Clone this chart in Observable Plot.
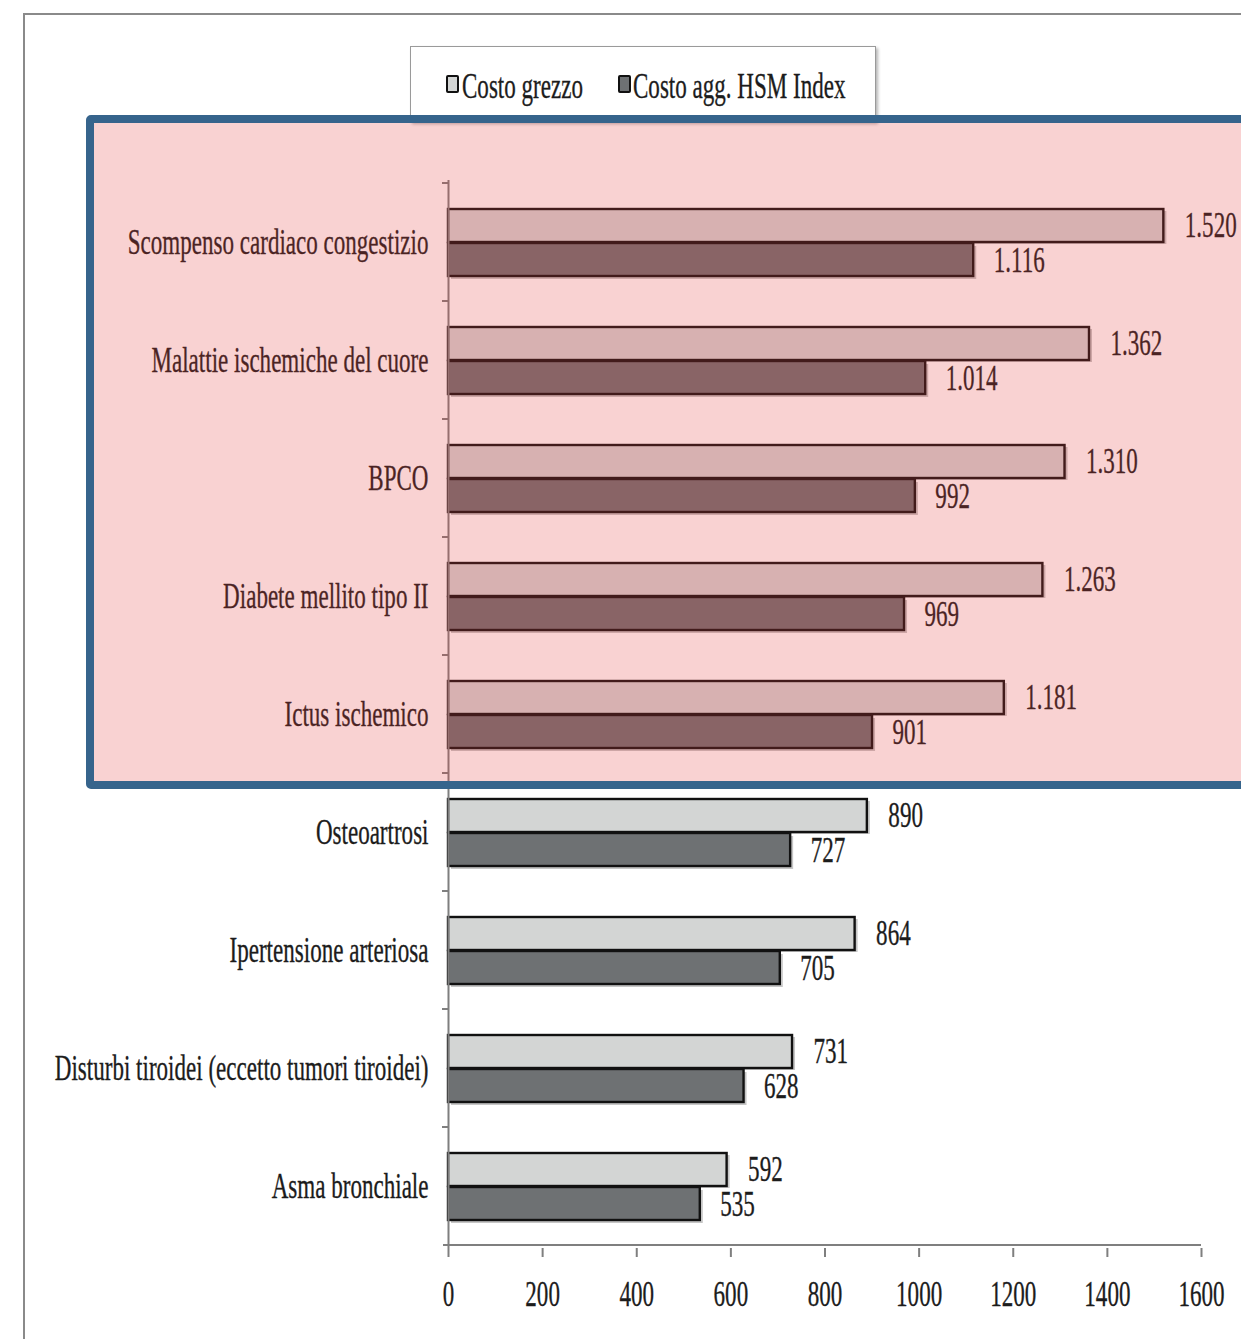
<!DOCTYPE html>
<html>
<head>
<meta charset="utf-8">
<script src="https://cdn.jsdelivr.net/npm/d3@7"></script>
<script src="https://cdn.jsdelivr.net/npm/@observablehq/plot@0.6"></script>
<style>
  html, body { margin: 0; padding: 0; background: #fff; }
  body { width: 1241px; height: 1339px; overflow: hidden; position: relative;
         font-family: "Liberation Serif", "Times New Roman", serif; color: #1c1c1c; }
  #frame { position: absolute; left: 23px; top: 13px; width: 1300px; height: 1400px;
           box-sizing: border-box; border: 2px solid #8a8a8a; }
  #legend { position: absolute; left: 410px; top: 46px; width: 466px; height: 76px;
            box-sizing: border-box; border: 1px solid #9a9a9a; background: #fff;
            box-shadow: 2px 2px 3px #b5b5b5; }
  .sw { position: absolute; top: 28px; width: 9px; height: 14px; border: 2.5px solid #111; border-radius: 2px; }
  .lt { position: absolute; top: 21px; font-size: 36px; line-height: 36px; white-space: nowrap;
        transform: scaleX(0.64); transform-origin: left center; -webkit-text-stroke: 0.35px #1c1c1c; }
  #chart { position: absolute; left: 0; top: 130px; }
  #chart text { stroke: #1c1c1c; stroke-width: 0.35px; }
  #highlight { position: absolute; box-sizing: border-box; border: 8px solid #36648c; border-radius: 5px;
               background: rgba(228, 60, 62, 0.23); pointer-events: none; }
</style>
</head>
<body>
<div id="frame"></div>
<div id="legend">
  <div class="sw" style="left:35px;background:#d3d5d4"></div>
  <div class="lt" style="left:51px">Costo grezzo</div>
  <div class="sw" style="left:207px;background:#6e7173"></div>
  <div class="lt" style="left:222px">Costo agg. HSM Index</div>
</div>
<div id="chart"></div>
<div id="highlight"></div>
<script>
const categories = [
  "Scompenso cardiaco congestizio",
  "Malattie ischemiche del cuore",
  "BPCO",
  "Diabete mellito tipo II",
  "Ictus ischemico",
  "Osteoartrosi",
  "Ipertensione arteriosa",
  "Disturbi tiroidei (eccetto tumori tiroidei)",
  "Asma bronchiale"
];
const costoGrezzo = [1520, 1362, 1310, 1263, 1181, 890, 864, 731, 592];
const costoHSM    = [1116, 1014, 992, 969, 901, 727, 705, 628, 535];
const seriesNames = ["Costo grezzo", "Costo agg. HSM Index"];
const xTicks = [0, 200, 400, 600, 800, 1000, 1200, 1400, 1600];
const highlighted = categories.slice(0, 5);

const fmtIt = d3.formatLocale({decimal: ",", thousands: ".", grouping: [3], currency: ["", "€"]}).format(",d");
const rows = categories.map((c, i) => ({cat: c, grezzo: costoGrezzo[i], hsm: costoHSM[i]}));

const FS = 36;
const SQUEEZE = 0.64;
const LIGHT = "#d3d5d4", DARK = "#6e7173", EDGE = "#111", AXIS = "#7f7f7f";

const plot = Plot.plot({
  width: 1241,
  height: 1209,
  marginLeft: 448,
  marginRight: 40,
  marginTop: 50,
  marginBottom: 91,
  style: {fontFamily: '"Liberation Serif", "Times New Roman", serif', fontSize: FS + "px",
          color: "#1c1c1c", background: "transparent", overflow: "visible"},
  x: {domain: [0, 1600], label: null},
  y: {domain: categories, padding: 0, label: null},
  marks: [
    // soft drop shadows
    Plot.barX(rows, {x: "grezzo", y: "cat", fill: "#a0a0a0", fillOpacity: 0.6, insetTop: 26, insetBottom: 59, dx: 3, dy: 2}),
    Plot.barX(rows, {x: "hsm", y: "cat", fill: "#a0a0a0", fillOpacity: 0.6, insetTop: 60, insetBottom: 25, dx: 3, dy: 3}),
    // bars
    Plot.barX(rows, {x: "grezzo", y: "cat", fill: LIGHT, stroke: EDGE, strokeWidth: 2.4, insetTop: 26, insetBottom: 59}),
    Plot.barX(rows, {x: "hsm", y: "cat", fill: DARK, stroke: EDGE, strokeWidth: 2.4, insetTop: 60, insetBottom: 25}),
    // value labels
    Plot.text(rows, {x: "grezzo", y: "cat", text: d => fmtIt(d.grezzo), textAnchor: "start", dx: 21, dy: -17, fontSize: FS, fill: "#1c1c1c"}),
    Plot.text(rows, {x: "hsm", y: "cat", text: d => fmtIt(d.hsm), textAnchor: "start", dx: 20, dy: 18, fontSize: FS, fill: "#1c1c1c"}),
    // axes
    Plot.ruleX([0], {stroke: AXIS, strokeWidth: 2}),
    Plot.axisY({tickSize: 0, tickPadding: 20, fontSize: FS}),
    Plot.axisX({ticks: xTicks, tickFormat: d => String(d), tickSize: 9, tickPadding: 23, fontSize: FS, stroke: AXIS, strokeWidth: 2})
  ]
});

document.getElementById("chart").appendChild(plot);

// axis line & category boundary ticks, positioned from Plot's own scales
const xs = plot.scale("x"), ys = plot.scale("y");
const bw = ys.bandwidth;
const svg = d3.select(plot);
const g = svg.append("g").attr("stroke", AXIS).attr("stroke-width", 2);
const x0 = xs.apply(0);
categories.forEach(c => {
  const yy = ys.apply(c);
  g.append("line").attr("x1", x0 - 6).attr("x2", x0).attr("y1", yy).attr("y2", yy);
});
const yBottom = ys.apply(categories[categories.length - 1]) + bw;
g.append("line").attr("x1", x0 - 5).attr("x2", xs.apply(xTicks[xTicks.length - 1])).attr("y1", yBottom).attr("y2", yBottom);

// condensed serif look: compress every text horizontally about its anchor
plot.querySelectorAll("text").forEach(t => {
  const tr = t.getAttribute("transform") || "";
  const hasXY = t.hasAttribute("x") || t.hasAttribute("y");
  if (/translate\(/.test(tr) && !hasXY) {
    t.setAttribute("transform", tr + ` scale(${SQUEEZE},1)`);
    t.setAttribute("stroke-width", (0.35 / SQUEEZE).toFixed(2));
  } else {
    const L = t.getComputedTextLength();
    if (L > 0) {
      t.setAttribute("textLength", (L * SQUEEZE).toFixed(1));
      t.setAttribute("lengthAdjust", "spacingAndGlyphs");
    }
  }
});

// highlight box around the first five categories
const chartTop = 130;
const hTop = chartTop + ys.apply(highlighted[0]) - 68;
const hBottom = chartTop + ys.apply(highlighted[highlighted.length - 1]) + bw + 16;
const hl = document.getElementById("highlight");
hl.style.left = "86px";
hl.style.top = hTop + "px";
hl.style.width = "1200px";
hl.style.height = (hBottom - hTop) + "px";
</script>
</body>
</html>
